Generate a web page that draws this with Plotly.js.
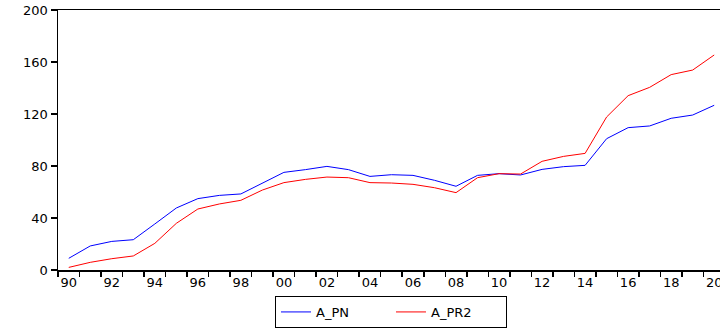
<!DOCTYPE html>
<html>
<head>
<meta charset="utf-8">
<script src="https://cdn.plot.ly/plotly-3.0.1.min.js"></script>
<style>html,body{margin:0;padding:0;background:#fff;}#chart{width:720px;height:333px;}</style>
</head>
<body>
<div id="chart"></div>
<script>
const years = [1990,1991,1992,1993,1994,1995,1996,1997,1998,1999,2000,2001,2002,2003,2004,2005,2006,2007,2008,2009,2010,2011,2012,2013,2014,2015,2016,2017,2018,2019,2020];
const aPN = [9.0,18.5,22.0,23.3,35.4,47.7,54.9,57.4,58.5,66.7,75.1,77.2,79.7,77.2,72.0,73.3,72.8,69.0,64.4,72.8,74.1,73.1,77.4,79.5,80.5,101.0,109.5,110.8,116.7,119.2,126.7];
const aPR2 = [2.0,5.9,8.7,10.8,20.5,35.9,46.9,50.8,53.6,61.5,67.2,69.7,71.5,71.0,67.2,66.9,65.9,63.3,59.5,71.0,74.1,73.8,83.6,87.4,89.7,117.7,134.1,140.5,150.3,153.8,165.4];
const labelYears = [1990,1992,1994,1996,1998,2000,2002,2004,2006,2008,2010,2012,2014,2016,2018,2020];
const labelText = ['90','92','94','96','98','00','02','04','06','08','10','12','14','16','18','20'];
const yTicks = [0,40,80,120,160,200];
const boundaries = [];
for (let i = 0; i <= years.length; i++) boundaries.push(years[0] - 0.5 + i);

const traces = [
  {x: years, y: aPN, name: 'A_PN', type: 'scatter', mode: 'lines', line: {color: '#0000ff', width: 1}},
  {x: years, y: aPR2, name: 'A_PR2', type: 'scatter', mode: 'lines', line: {color: '#ff0000', width: 1}}
];
const font = {family: 'DejaVu Sans, Arial, sans-serif', size: 13, color: '#000'};
const layout = {
  width: 720, height: 333,
  margin: {l: 58, r: 0, t: 10, b: 63, autoexpand: false},
  paper_bgcolor: '#fff', plot_bgcolor: '#fff',
  font: font,
  showlegend: true,
  legend: {orientation: 'h', x: 0.503, xanchor: 'center', y: -0.223, yanchor: 'bottom',
           bordercolor: '#000', borderwidth: 1, entrywidth: 70, entrywidthmode: 'pixels',
           font: {family: 'DejaVu Sans, Arial, sans-serif', size: 13, color: '#000'}},
  xaxis: {
    range: [1989.5, 2020.27], tickvals: labelYears, ticktext: labelText, ticks: '',
    ticklabeloverflow: 'allow', automargin: false,
    showgrid: false, zeroline: false, showline: true, linecolor: '#000', linewidth: 1.5, mirror: true,
    minor: {tickvals: boundaries, ticks: 'outside', ticklen: 5, tickcolor: '#000', tickwidth: 1.5, showgrid: false},
    tickfont: font, fixedrange: true
  },
  yaxis: {
    range: [0, 200], tickvals: yTicks, ticks: 'outside', ticklen: 6, tickwidth: 1.5, tickcolor: '#000',
    automargin: false,
    showgrid: false, zeroline: false, showline: true, linecolor: '#000', linewidth: 1.5,
    tickfont: font, fixedrange: true
  }
};
Plotly.newPlot('chart', traces, layout, {staticPlot: true});
</script>
</body>
</html>
